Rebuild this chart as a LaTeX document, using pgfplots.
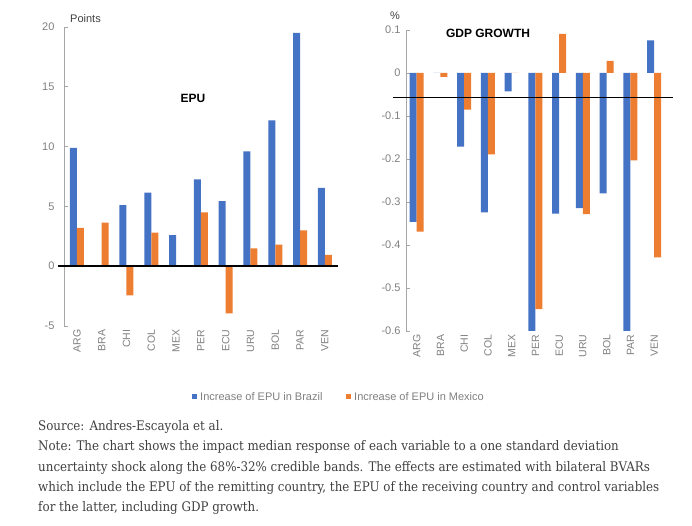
\documentclass[border=0pt]{standalone}
\usepackage{fontspec}
\setmainfont{Liberation Sans}
\newfontfamily\notefont{DejaVu Serif Condensed}
\usepackage{pgfplots}
\usepackage{pgfplotstable}
\pgfplotsset{compat=1.18}
\definecolor{cblue}{HTML}{4472C4}
\definecolor{corange}{HTML}{ED7D31}
\definecolor{tickgray}{HTML}{7F7F7F}
\definecolor{axgray}{HTML}{A6A6A6}
\definecolor{txtgray}{HTML}{404040}

\pgfplotstableread{
x blue orange
0 9.9 3.2
1 0 3.65
2 5.1 -2.45
3 6.15 2.8
4 2.6 0
5 7.25 4.5
6 5.45 -3.95
7 9.6 1.5
8 12.2 1.8
9 19.5 3.0
10 6.55 0.95
}\epu

\pgfplotstableread{
x blue orange
0 -0.346 -0.369
1 0 -0.009
2 -0.171 -0.085
3 -0.324 -0.189
4 -0.043 0
5 -0.6 -0.549
6 -0.327 0.091
7 -0.314 -0.328
8 -0.280 0.028
9 -0.6 -0.203
10 0.076 -0.429
}\gdp

\pgfplotsset{
  mybars/.style={
    scale only axis,
    ybar=0pt, bar width=7pt,
    axis lines*=left,
    x axis line style={draw=none},
    y axis line style={axgray, line width=0.6pt},
    xtick={0,...,10},
    xticklabels={ARG,BRA,CHI,COL,MEX,PER,ECU,URU,BOL,PAR,VEN},
    xtick style={draw=none},
    ytick style={axgray, line width=0.6pt},
    tick align=inside,
    major tick length=4pt,
    xticklabel style={rotate=90, anchor=east, font=\fontsize{10.5}{12}\selectfont, text=tickgray},
    yticklabel style={font=\fontsize{11}{13}\selectfont, text=tickgray},
    /pgf/number format/assume math mode=true,
    clip=false,
  }
}

\begin{document}
\begin{tikzpicture}
\path[use as bounding box] (0pt,0pt) rectangle (692pt,526pt);

% EPU
\begin{axis}[mybars,
  at={(64pt,200pt)}, anchor=south west,
  width=274pt, height=299pt,
  xmin=-0.52, xmax=10.53,
  ymin=-5, ymax=20,
  ytick={-5,0,5,10,15,20},
  yticklabel style={xshift=-6pt},
]
\addplot[fill=cblue, draw=none] table[x=x, y=blue] {\epu};
\addplot[fill=corange, draw=none] table[x=x, y=orange] {\epu};
\draw[black, line width=1.8pt] (axis cs:-0.77,0) -- (axis cs:10.53,0);
\end{axis}

% GDP
\begin{axis}[mybars,
  at={(406pt,195pt)}, anchor=south west,
  width=260pt, height=301pt,
  xmin=-0.45, xmax=10.5,
  ymin=-0.6, ymax=0.1,
  ytick={-0.6,-0.5,-0.4,-0.3,-0.2,-0.1,0,0.1},
  yticklabel style={xshift=-2pt, /pgf/number format/fixed, /pgf/number format/precision=1},
]
\addplot[fill=cblue, draw=none] table[x=x, y=blue] {\gdp};
\addplot[fill=corange, draw=none] table[x=x, y=orange] {\gdp};
\draw[black, line width=1.9pt] (axis cs:-1.0,-0.057) -- (axis cs:10.81,-0.057);
\end{axis}

% axis titles
\node[anchor=base west, inner sep=0pt, text=txtgray, font=\fontsize{11}{13}\selectfont] at (70pt,503pt) {Points};
\node[anchor=base, inner sep=0pt, text=txtgray, font=\fontsize{11}{13}\selectfont] at (395pt,506pt) {\%};
\node[font=\bfseries\fontsize{12}{14}\selectfont, inner sep=0pt] at (193pt,428pt) {EPU};
\node[font=\bfseries\fontsize{12}{14}\selectfont, inner sep=0pt] at (488pt,493pt) {GDP GROWTH};

% legend
\fill[cblue] (192pt,126.5pt) rectangle (197pt,131.5pt);
\node[anchor=west, inner sep=0pt, text=tickgray, font=\fontsize{11}{13}\selectfont] at (200pt,129pt) {Increase of EPU in Brazil};
\fill[corange] (346pt,126.5pt) rectangle (351pt,131.5pt);
\node[anchor=west, inner sep=0pt, text=tickgray, font=\fontsize{11}{13}\selectfont] at (354pt,129pt) {Increase of EPU in Mexico};

% note
\begin{scope}[every node/.style={anchor=base west, inner sep=0pt, text=txtgray, font=\notefont\fontsize{13.2}{15}\selectfont}]
\node at (38pt,95.3pt) {Source: Andres-Escayola et al.};
\node at (38pt,75pt) {Note: The chart shows the impact median response of each variable to a one standard deviation};
\node at (38pt,54.7pt) {uncertainty shock along the 68\%-32\% credible bands. The effects are estimated with bilateral BVARs};
\node at (38pt,34.4pt) {which include the EPU of the remitting country, the EPU of the receiving country and control variables};
\node at (38pt,14.1pt) {for the latter, including GDP growth.};
\end{scope}
\end{tikzpicture}
\end{document}
